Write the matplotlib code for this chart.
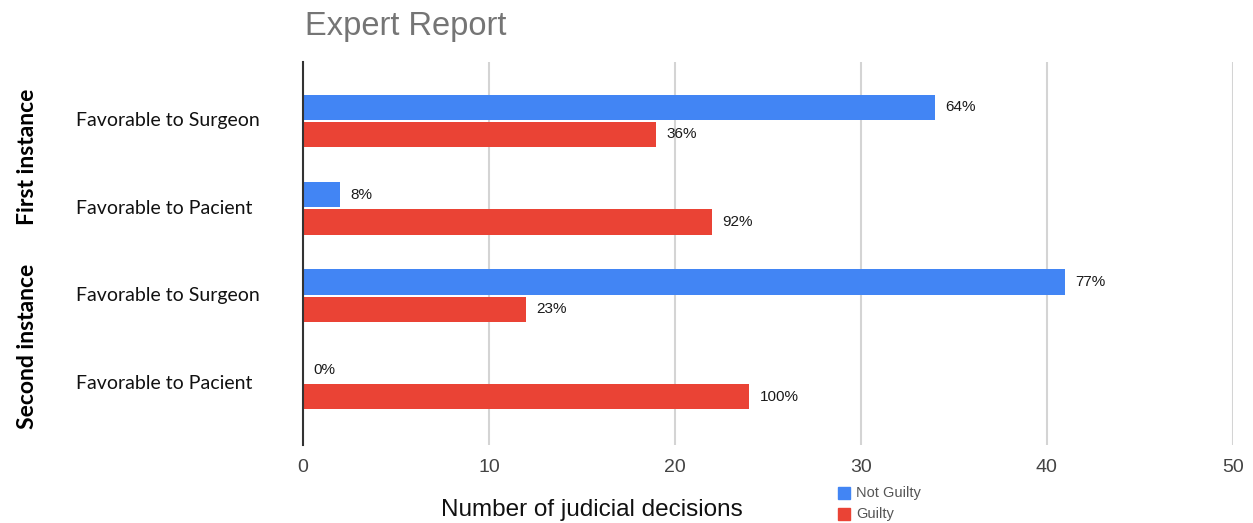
import numpy as np
import matplotlib.pyplot as plt
from matplotlib.transforms import blended_transform_factory

# judicial decisions by expert report outcome
categories = ["Favorable to Surgeon", "Favorable to Pacient",
              "Favorable to Surgeon", "Favorable to Pacient"]
groups = ["First instance", "Second instance"]
not_guilty = [34, 2, 41, 0]
guilty = [19, 22, 12, 24]
xticks = [0, 10, 20, 30, 40, 50]

BLUE = "#4285f4"
RED = "#ea4335"
sans = ["Liberation Sans", "DejaVu Sans"]

fig = plt.figure(figsize=(12.53, 5.23), dpi=100)
ax = fig.add_axes([0.2418, 0.149, 0.742, 0.7325])

y = np.arange(len(categories))
h = 0.29
off = 0.155
ax.barh(y - off, not_guilty, height=h, color=BLUE, zorder=3)
ax.barh(y + off, guilty, height=h, color=RED, zorder=3)

totals = [a + b for a, b in zip(not_guilty, guilty)]
for i in range(len(categories)):
    for val, yy in ((not_guilty[i], y[i] - off), (guilty[i], y[i] + off)):
        pct = round(val / totals[i] * 100)
        ax.text(val + 0.55, yy, f"{pct}%", va="center", ha="left",
                fontsize=11, color="#1a1a1a", family=sans)

ax.set_xlim(0, 50)
ax.set_ylim(3.71, -0.675)
ax.set_xticks(xticks)
ax.set_xticklabels([str(t) for t in xticks], family=sans, fontsize=14, color="#444444")
ax.tick_params(axis="x", length=0, pad=10)
ax.set_yticks([])
ax.grid(axis="x", color="#d4d4d4", linewidth=1.5, zorder=0)
for s in ("top", "right", "bottom"):
    ax.spines[s].set_visible(False)
ax.spines["left"].set_color("#333333")
ax.spines["left"].set_linewidth(1.5)
ax.spines["left"].set_zorder(4)

# category labels, left aligned
tr = blended_transform_factory(fig.transFigure, ax.transData)
for yi, name in zip(y, categories):
    ax.text(76 / 1253, yi, name, transform=tr, ha="left", va="center",
            fontsize=14, color="#111111", family=["Lato", "DejaVu Sans"])

for gy, g in zip([0.41, 2.58], groups):
    ax.text(28 / 1253, gy, g, transform=tr, rotation=90, ha="center", va="center",
            fontsize=16.5, fontweight="bold", color="#000000", family=["Lato", "DejaVu Sans"])

fig.text(305 / 1253, 1 - 27 / 523, "Expert Report", ha="left", va="center",
         fontsize=23.5, color="#757575", family=sans)
fig.text(592 / 1253, 1 - 510 / 523, "Number of judicial decisions", ha="center", va="center",
         fontsize=17.5, color="#111111", family=sans)

# legend
for ly, lab, c in ((493, "Not Guilty", BLUE), (514, "Guilty", RED)):
    fig.patches.append(plt.Rectangle((838 / 1253, 1 - (ly + 6) / 523), 12 / 1253, 12 / 523,
                                     transform=fig.transFigure, color=c))
    fig.text(856 / 1253, 1 - ly / 523, lab, ha="left", va="center",
             fontsize=10.5, color="#555555", family=sans)

fig.savefig("out.png", dpi=100)
